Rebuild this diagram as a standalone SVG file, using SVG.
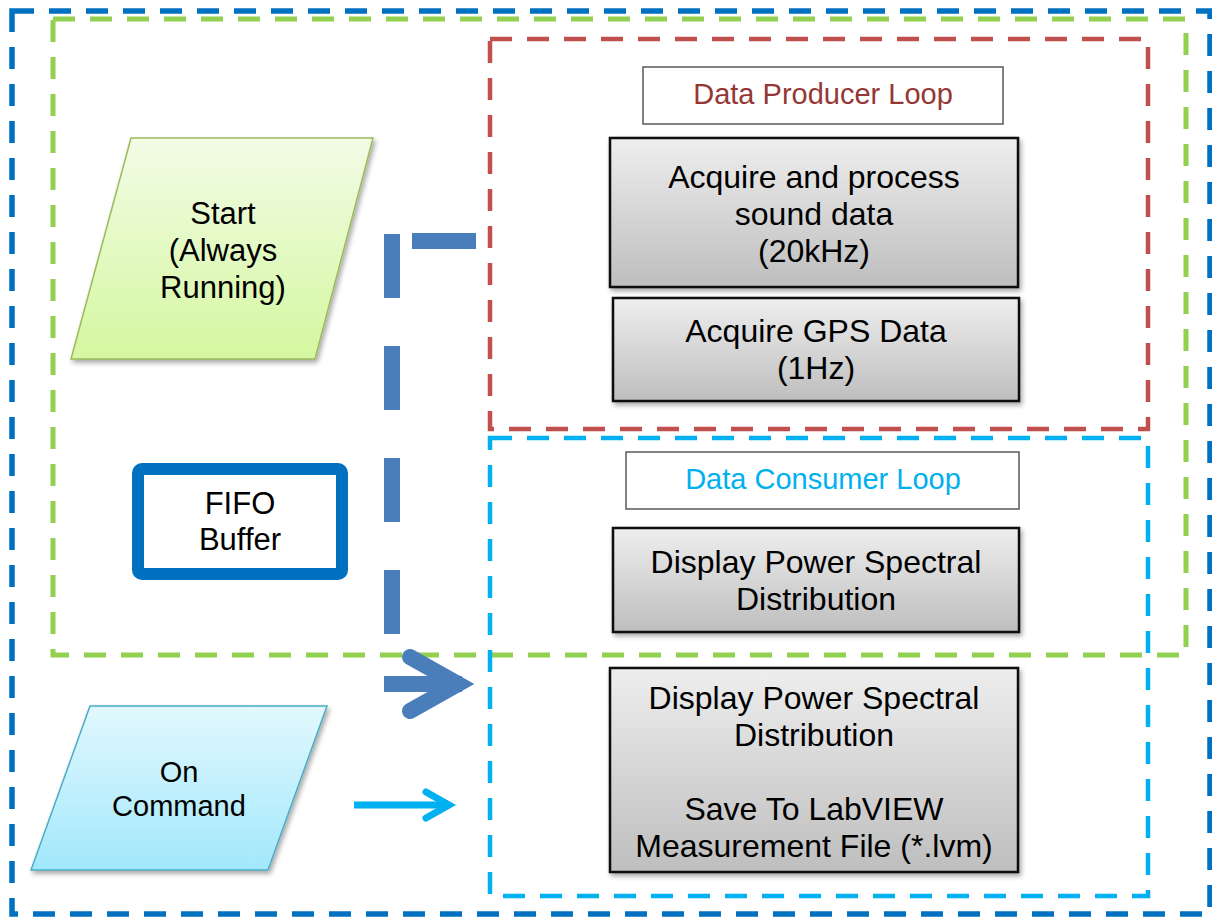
<svg xmlns="http://www.w3.org/2000/svg" width="1212" height="918" viewBox="0 0 1212 918">
<defs>
<linearGradient id="gGrey" x1="0" y1="0" x2="0" y2="1"><stop offset="0" stop-color="#EEEEEE"/><stop offset="1" stop-color="#BEBEBE"/></linearGradient>
<linearGradient id="gGreen" x1="0" y1="0" x2="0" y2="1"><stop offset="0" stop-color="#F2FCE6"/><stop offset="1" stop-color="#D5F7A0"/></linearGradient>
<linearGradient id="gCyan" x1="0" y1="0" x2="0" y2="1"><stop offset="0" stop-color="#E2F8FE"/><stop offset="1" stop-color="#A2E8FB"/></linearGradient>
<filter id="shadow" x="-10%" y="-10%" width="125%" height="130%"><feDropShadow dx="2" dy="3" stdDeviation="2.5" flood-color="#000" flood-opacity="0.35"/></filter>
</defs>
<style>
.frame{fill:none;stroke-dasharray:22 15;}
.t{font-family:"Liberation Sans",Arial,Helvetica,sans-serif;text-anchor:middle;fill:#000;}
.box{fill:url(#gGrey);stroke:#0D0D0D;stroke-width:2.5;filter:url(#shadow);}
.title{fill:#FFFFFF;stroke:#595959;stroke-width:1.5;}
</style>
<g id="frames">
<rect id="outer-frame" class="frame" x="12" y="11" width="1198" height="903" stroke="#0070C0" stroke-width="5.5"/>
<rect id="always-frame" class="frame" x="53" y="19" width="1133" height="636" stroke="#92D050" stroke-width="5"/>
<rect id="producer-frame" class="frame" x="490" y="39" width="658" height="390" stroke="#C0504D" stroke-width="4.5"/>
<rect id="consumer-frame" class="frame" x="490" y="438" width="658" height="458" stroke="#00B0F0" stroke-width="4.5"/>
</g>
<g id="start">
<polygon points="131,138 373,138 315,359 71,359" fill="url(#gGreen)" stroke="#9BBB59" stroke-width="1.5" filter="url(#shadow)"/>
<text class="t" font-size="31"><tspan x="223" y="224">Start</tspan><tspan x="223" y="261">(Always</tspan><tspan x="223" y="298">Running)</tspan></text>
</g>
<g id="fifo">
<rect x="138" y="469" width="204" height="105" rx="4" fill="#FFFFFF" stroke="#0070C0" stroke-width="12"/>
<text class="t" font-size="31"><tspan x="240" y="514">FIFO</tspan><tspan x="240" y="550">Buffer</tspan></text>
</g>
<g id="oncommand">
<polygon points="90,706 327,706 268,870 31,870" fill="url(#gCyan)" stroke="#4BACC6" stroke-width="1.5" filter="url(#shadow)"/>
<text class="t" font-size="29"><tspan x="179" y="782">On</tspan><tspan x="179" y="816">Command</tspan></text>
</g>
<g id="producer-title">
<rect class="title" x="643" y="67" width="360" height="57"/>
<text class="t" font-size="29" x="823" y="104" style="fill:#953735">Data Producer Loop</text>
</g>
<g id="acquire-sound">
<rect class="box" x="610" y="138" width="408" height="149"/>
<text class="t" font-size="32"><tspan x="814" y="188">Acquire and process</tspan><tspan x="814" y="225">sound data</tspan><tspan x="814" y="262">(20kHz)</tspan></text>
</g>
<g id="acquire-gps">
<rect class="box" x="613" y="298" width="406" height="103"/>
<text class="t" font-size="32"><tspan x="816" y="342">Acquire GPS Data</tspan><tspan x="816" y="379">(1Hz)</tspan></text>
</g>
<g id="consumer-title">
<rect class="title" x="626" y="452" width="393" height="57"/>
<text class="t" font-size="29" x="823" y="489" style="fill:#00B0F0">Data Consumer Loop</text>
</g>
<g id="display-psd">
<rect class="box" x="613" y="528" width="406" height="104"/>
<text class="t" font-size="32"><tspan x="816" y="573">Display Power Spectral</tspan><tspan x="816" y="610">Distribution</tspan></text>
</g>
<g id="display-save">
<rect class="box" x="610" y="668" width="408" height="204"/>
<text class="t" font-size="32"><tspan x="814" y="709">Display Power Spectral</tspan><tspan x="814" y="746">Distribution</tspan><tspan x="814" y="820">Save To LabVIEW</tspan><tspan x="814" y="857">Measurement File (*.lvm)</tspan></text>
</g>
<g id="connectors">
<g stroke="#4A7EBB" stroke-width="16" fill="none">
<line x1="412" y1="241" x2="476" y2="241"/>
<line x1="392" y1="234" x2="392" y2="634" stroke-dasharray="64 48"/>
<line x1="384" y1="684" x2="462" y2="684"/>
<polyline points="410,657 458,684 410,711" stroke-linecap="round" stroke-linejoin="miter" stroke-miterlimit="10"/>
</g>
<g stroke="#00B0F0" stroke-width="7" fill="none">
<line x1="354" y1="805" x2="447" y2="805"/>
<polyline points="426,792 449,805 426,818" stroke-linecap="round" stroke-linejoin="miter" stroke-miterlimit="10"/>
</g>
</g>
</svg>
